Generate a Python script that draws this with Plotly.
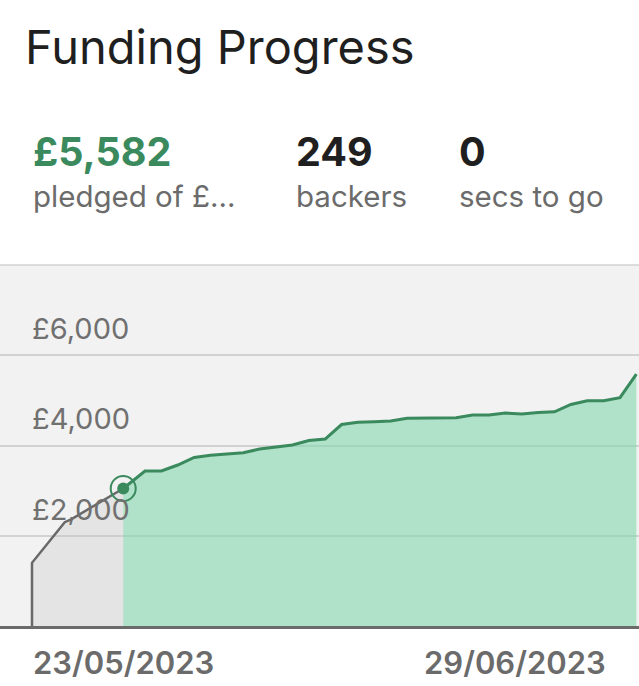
import pandas as pd
import plotly.graph_objects as go

# ---- data ----
start_date = "2023-05-23"
end_date = "2023-06-29"

early_times = ["2023-05-23 00:00", "2023-05-23 00:00", "2023-05-25 00:00",
               "2023-05-25 10:00", "2023-05-28 13:40"]
early_values = [0, 1400, 2300, 2370, 3047]

daily_start = "2023-05-29 21:36"
daily_values = [3435, 3435, 3568, 3734, 3783, 3812, 3840, 3922, 3967, 4011,
                4111, 4144, 4465, 4514, 4525, 4543, 4603, 4609, 4612, 4616,
                4676, 4676, 4720, 4698, 4731, 4747, 4909, 4991, 4991, 5059,
                5582]

backers = 249
secs_to_go = 0

y_tickvals = [0, 2000, 4000, 6000, 8000]
y_ticktext = ["", "£2,000", "£4,000", "£6,000", ""]

# ---- build ----
early_x = pd.to_datetime(early_times)
daily_x = pd.date_range(daily_start, periods=len(daily_values), freq="D")
green_x = [early_x[-1]] + list(daily_x)
green_y = [early_values[-1]] + daily_values

W, H = 639, 686
T, B = 265, 60
PH = H - T - B


def py(ypx):
    return (H - B - ypx) / PH


GREEN = "#3a8a5e"
GRAYTXT = "#6b6b6b"
FONT = "Inter"

fig = go.Figure()
fig.add_trace(go.Scatter(x=early_x, y=early_values, mode="lines",
                         line=dict(color="#696969", width=2.5),
                         fill="tozeroy", fillcolor="rgba(200,200,200,0.32)",
                         hoverinfo="skip"))
fig.add_trace(go.Scatter(x=green_x, y=green_y, mode="lines",
                         line=dict(color=GREEN, width=3),
                         fill="tozeroy", fillcolor="rgba(132,214,174,0.6)",
                         hoverinfo="skip"))
fig.add_trace(go.Scatter(x=[green_x[0]], y=[green_y[0]], mode="markers",
                         marker=dict(size=25, color="rgba(0,0,0,0)",
                                     line=dict(color=GREEN, width=2)),
                         hoverinfo="skip"))
fig.add_trace(go.Scatter(x=[green_x[0]], y=[green_y[0]], mode="markers",
                         marker=dict(size=12, color=GREEN), hoverinfo="skip"))

x0 = pd.Timestamp("2023-05-21 01:07")
x1 = pd.Timestamp("2023-06-29 01:26")

fig.update_layout(
    width=W, height=H, autosize=False,
    margin=dict(l=0, r=0, t=T, b=B, pad=0, autoexpand=False),
    paper_bgcolor="white", plot_bgcolor="#f2f2f2",
    showlegend=False,
    font=dict(family=FONT, color=GRAYTXT),
    title=dict(text="Funding Progress", x=25 / W, xanchor="left", xref="container",
               y=1 - 48 / H, yanchor="middle", yref="container",
               font=dict(family=FONT, size=47, color="#1f1f1f")),
    xaxis=dict(range=[x0, x1], showgrid=False, showticklabels=False,
               showline=True, linecolor="#6b6b6b", linewidth=3, zeroline=False,
               automargin=False, fixedrange=True),
    yaxis=dict(range=[0, 8000], tickvals=y_tickvals, ticktext=y_ticktext,
               showgrid=True, gridcolor="#d2d2d2", gridwidth=1.5, zeroline=False,
               ticklabelposition="inside top", ticklabelstandoff=29,
               ticklabelshift=-6, automargin=False,
               tickfont=dict(family=FONT, size=29, color="#707070"),
               fixedrange=True),
    shapes=[dict(type="line", xref="paper", yref="paper", x0=0, x1=1, y0=1, y1=1,
                 line=dict(color="#d2d2d2", width=1.5))],
)

ann = []
def add(text, xpx, ypx, size, color, weight=400, anchor="left"):
    ann.append(dict(text=text, x=xpx / W, y=py(ypx), xref="paper", yref="paper",
                    xanchor=anchor, yanchor="middle", showarrow=False,
                    font=dict(family=FONT, size=size, color=color, weight=weight)))

add(f"£{daily_values[-1]:,}", 31, 152, 39.5, GREEN, 700)
add("pledged of £…", 31, 196, 29.5, GRAYTXT)
add(f"{backers}", 294, 152, 39.5, "#1f1f1f", 700)
add("backers", 294, 196, 29.5, GRAYTXT)
add(f"{secs_to_go}", 457, 152, 39.5, "#1f1f1f", 700)
add("secs to go", 457, 196, 29.5, GRAYTXT)

fmt = lambda d: pd.Timestamp(d).strftime("%d/%m/%Y")
add(fmt(start_date), 31, 662, 31, GRAYTXT, 600)
add(fmt(end_date), 608, 662, 31, GRAYTXT, 600, anchor="right")

fig.update_layout(annotations=ann)
fig.write_html("out.html", config={"displayModeBar": False},
               post_script="document.body.style.margin='0';document.body.style.overflow='hidden';")
